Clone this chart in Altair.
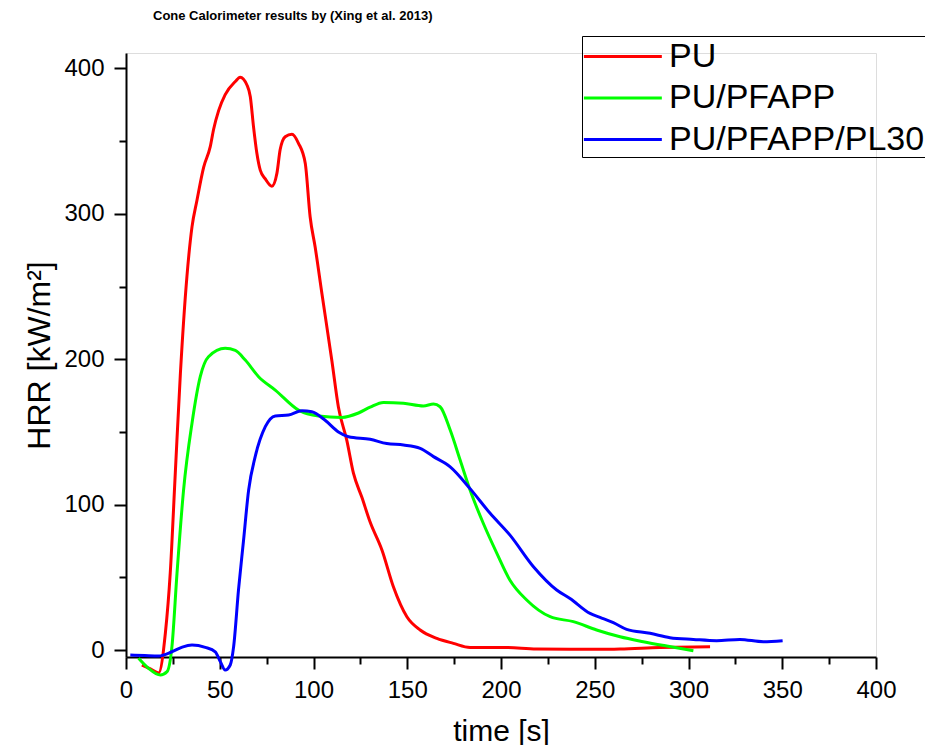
import altair as alt
import pandas as pd

series_names = ["PU", "PU/PFAPP", "PU/PFAPP/PL30"]
series_colors = ["#ff0000", "#00ff00", "#0000ff"]

pu_time = [8.5, 13, 17.4, 21, 23.6, 26.3, 29, 32.5, 35.2, 37.8, 41.4, 44.9, 46.7, 49.4, 52.9,
           58.3, 60.9, 64.5, 66.3, 68, 69.8, 71.6, 74.3, 77.8, 80.5, 82.2, 84.9, 88.5, 92, 95.6,
           98.2, 100.9, 104.5, 109.8, 113.3, 117.8, 121.3, 125.8, 130.2, 136.5, 142.6, 149.8,
           156.9, 165.8, 174.6, 183.5, 201.3, 219, 236.8, 252.8, 263.5, 284.8, 311.5]
pu_hrr = [-10.3, -13, -15.8, 11.7, 53, 122, 190, 257, 291, 309, 332, 346, 358, 371, 382,
          391, 394, 388.6, 380.5, 360, 341.6, 330, 324, 319, 328, 344, 353, 354.7, 348.5, 334.7,
          298, 277, 245, 199, 167, 144, 121.6, 105, 88, 68.8, 43.5, 22.9,
          13.8, 8, 4.6, 1.8, 1.8, 0.7, 0.5, 0.5, 0.7, 1.8, 2.3]

pfapp_time = [6.7, 12, 18.3, 21.9, 24.5, 27.2, 30.7, 35.2, 39.6, 44, 52.9, 58.3, 63.6, 70.7,
              79.6, 92, 102.7, 115.1, 124, 130.2, 137.3, 148, 158.6, 164, 167.5, 172.9, 178.2,
              183.5, 190.6, 197.8, 204.8, 213.7, 226.2, 238.6, 251, 263.5, 275.9, 288.4, 302.6]
pfapp_hrr = [-5.7, -12.6, -17.2, -14.9, 2.3, 52.7, 110, 156, 188, 201.7, 207.5, 206, 199.4, 188,
             178.8, 165, 161, 160, 163, 167, 170.3, 169.7, 167.8, 169.2, 167.3, 151.3, 130.7,
             110, 87, 66.5, 48, 34.4, 22.9, 19.5, 13.8, 9.1, 5.7, 2.7, -0.5]

pl30_time = [2.3, 10, 17.4, 24.5, 30, 35.2, 42.3, 47.6, 50.3, 52.9, 55.6, 57.4, 60, 62.7, 65.4,
             68.9, 74.3, 79.6, 86.7, 93.8, 99.1, 106.2, 113.3, 118.7, 130.2, 139.1, 148, 156.9,
             164, 172.9, 183.5, 194.2, 204.8, 217.3, 229.7, 236.8, 247.5, 252.8, 259.9, 267,
             279.5, 290.1, 302.6, 315, 327.4, 339.9, 350.2]
pl30_hrr = [-3.4, -3.8, -4.1, -1.2, 2, 3.4, 1.8, -1.2, -8, -13.8, -10.3, 2.3, 41.3, 75.6, 110,
            133, 153.6, 161, 161.6, 164.6, 163.9, 158, 150, 146.7, 144.9, 142, 141, 138.7,
            133, 126, 111, 94, 79, 57.3, 41.3, 35.5, 25.2, 22.5, 18.8, 14.2,
            11.5, 8.5, 7.3, 6.4, 7.3, 5.7, 6.4]

x_major = [0, 50, 100, 150, 200, 250, 300, 350, 400]
x_minor = [25, 75, 125, 175, 225, 275, 325, 375]
y_major = [0, 100, 200, 300, 400]
y_minor = [50, 150, 250, 350]

rows = []
for name, ts, vs in [(series_names[0], pu_time, pu_hrr),
                     (series_names[1], pfapp_time, pfapp_hrr),
                     (series_names[2], pl30_time, pl30_hrr)]:
    for i, (t, v) in enumerate(zip(ts, vs)):
        rows.append({"time": t, "hrr": v, "series": name, "order": i})
df = pd.DataFrame(rows)

FONT = "Liberation Sans"
x_scale = alt.Scale(domain=[0, 400], nice=False, zero=False)
y_scale = alt.Scale(domain=[-4.8, 410.6], nice=False, zero=False)

main_x_axis = alt.Axis(values=x_major, orient="bottom", grid=False, tickSize=12, tickWidth=2,
                       tickColor="black", domainColor="black", domainWidth=2,
                       labelFont=FONT, labelFontSize=24, labelColor="black", labelPadding=9,
                       labelFlush=False,
                       title="time [s]", titleFont=FONT, titleFontSize=30,
                       titleFontWeight="normal", titleColor="black",
                       titleBaseline="alphabetic", titleY=83)
main_y_axis = alt.Axis(values=y_major, orient="left", grid=False, tickSize=12, tickWidth=2,
                       tickColor="black", domainColor="black", domainWidth=2,
                       labelFont=FONT, labelFontSize=24, labelColor="black", labelPadding=10,
                       labelFlush=False,
                       title="HRR [kW/m²]", titleFont=FONT, titleFontSize=32,
                       titleFontWeight="normal", titleColor="black",
                       titleAngle=-90, titleBaseline="alphabetic", titleAlign="center",
                       titleX=-77, titleY=302)

minor_x_axis = alt.Axis(values=x_minor, orient="bottom", grid=False, tickSize=7, tickWidth=2,
                        tickColor="black", domain=False, labels=False, title=None)
minor_y_axis = alt.Axis(values=y_minor, orient="left", grid=False, tickSize=7, tickWidth=2,
                        tickColor="black", domain=False, labels=False, title=None)

color = alt.Color("series:N",
                  scale=alt.Scale(domain=series_names, range=series_colors),
                  sort=series_names,
                  legend=alt.Legend(title=None, orient="none", legendX=456, legendY=-17,
                                    symbolType="M-1,0H3.19", symbolSize=1384,
                                    symbolStrokeWidth=3, labelFont=FONT, labelFontSize=34,
                                    labelColor="black", labelOffset=46, labelLimit=600,
                                    padding=0, rowPadding=3.5, strokeColor="black"))

lines = alt.Chart(df).mark_line(strokeWidth=3, interpolate="monotone", clip=False).encode(
    x=alt.X("time:Q", scale=x_scale, axis=main_x_axis),
    y=alt.Y("hrr:Q", scale=y_scale, axis=main_y_axis),
    color=color,
    detail="series:N",
    order="order:Q",
)

minor = alt.Chart(df).mark_point(opacity=0).encode(
    x=alt.X("time:Q", scale=x_scale, axis=minor_x_axis),
    y=alt.Y("hrr:Q", scale=y_scale, axis=minor_y_axis),
)

chart = alt.layer(lines, minor).resolve_axis(x="independent", y="independent").properties(
    width=750,
    height=604,
    padding={"left": 118, "top": 45, "right": 49, "bottom": 88},
    autosize=alt.AutoSizeParams(type="none"),
    title=alt.TitleParams(text="Cone Calorimeter results by (Xing et al. 2013)",
                          anchor="start", frame="group", font=FONT, fontSize=13,
                          fontWeight="bold", color="black", dx=27, offset=3,
                          baseline="alphabetic"),
).configure_view(stroke=None).configure(background="white")

chart.save("out.html", embed_options={"renderer": "svg", "actions": False})
